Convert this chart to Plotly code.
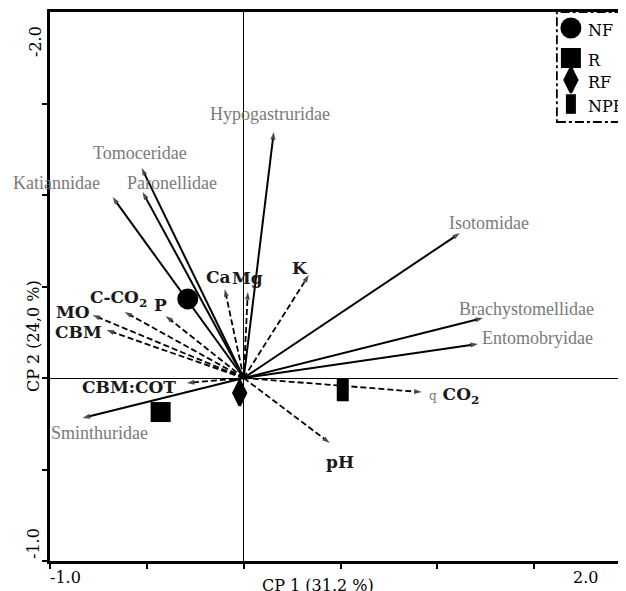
import plotly.graph_objects as go

# ---------------- data ----------------
species = ["Hypogastruridae", "Tomoceridae", "Paronellidae", "Katiannidae",
           "Isotomidae", "Brachystomellidae", "Entomobryidae", "Sminthuridae"]
species_cp1 = [0.155, -0.527, -0.522, -0.677, 1.116, 1.235, 1.209, -0.832]
species_cp2 = [1.344, 1.148, 1.016, 0.989, 0.792, 0.328, 0.186, -0.219]

variables = ["Ca", "Mg", "K", "P", "C-CO<sub>2</sub>", "MO", "CBM", "CBM:COT",
             "<span style='font-size:12px;color:#777777;font-weight:normal'>q</span> CO<sub>2</sub>", "pH"]
variable_cp1 = [-0.098, 0.021, 0.336, -0.403, -0.615, -0.780, -0.708, -0.294, 0.919, 0.444]
variable_cp2 = [0.486, 0.470, 0.563, 0.339, 0.361, 0.344, 0.262, -0.027, -0.077, -0.355]

sites = ["NF", "R", "RF", "NPF"]
site_cp1 = [-0.289, -0.429, -0.021, 0.511]
site_cp2 = [0.432, -0.186, -0.082, -0.066]

x_tick_vals = [-1.0, -0.5, 0.0, 0.5, 1.0, 1.5]
y_tick_vals = [-1.0, -0.5, 0.0, 0.5, 1.0, 1.5]
x_tick_text = ["-1.0", "2.0"]
y_tick_text = ["-2.0", "-1.0"]
x_title = "CP 1 (31.2 %)"
y_title = "CP 2 (24,0 %)"

# ---------------- styling ----------------
SERIF = "DejaVu Serif"
# the page body adds an 8 px margin: figure is 8 px smaller and margins compensate
FIG_W, FIG_H = 618, 583
M_L, M_R, M_T, M_B = 42, 0, 4, 30

species_label_shift = [(-4, -18), (-2, -15), (29, -9), (-56, -14), (29, -10),
                       (43, -9), (60, -6), (17, 15)]
variable_label_shift = [(-6, -12), (0, -14), (-9, -7), (-5, -11), (-6, -13),
                        (-20, -3), (-28, 2), (-58, 4), (32, 3), (10, 19)]
site_style = {
    "NF": dict(symbol="circle", size=21, line=dict(width=0)),
    "R": dict(symbol="square", size=20, line=dict(width=0)),
    "RF": dict(symbol="diamond-tall", size=18, line=dict(width=2.5, color="black")),
    "NPF": dict(symbol="line-ns", size=16, line=dict(width=12, color="black")),
}
legend_site_style = {
    "NF": dict(symbol="circle", size=21, line=dict(width=0)),
    "R": dict(symbol="square", size=20, line=dict(width=0)),
    "RF": dict(symbol="diamond-tall", size=18, line=dict(width=2.5, color="black")),
    "NPF": dict(symbol="line-ns", size=14, line=dict(width=10, color="black")),
}
legend_rows_px = [16, 46, 68, 92]

fig = go.Figure()

def add_vector(x, y, dash, width):
    fig.add_trace(go.Scatter(
        x=[0, x], y=[0, y], mode="lines+markers",
        line=dict(color="black", width=width, dash=dash),
        marker=dict(symbol=["circle", "arrow"], size=[0, 8], angleref="previous",
                    color="black", line=dict(width=0)),
        hoverinfo="skip", showlegend=False, cliponaxis=False))

for x, y in zip(species_cp1, species_cp2):
    add_vector(x, y, "solid", 2)
for x, y in zip(variable_cp1, variable_cp2):
    add_vector(x, y, "6px,3px", 1.8)

for name, x, y in zip(sites, site_cp1, site_cp2):
    st = site_style[name]
    fig.add_trace(go.Scatter(
        x=[x], y=[y], mode="markers",
        marker=dict(color="black", **st), name=name, showlegend=False,
        cliponaxis=False))

annotations = []
for name, x, y, (dx, dy) in zip(species, species_cp1, species_cp2, species_label_shift):
    annotations.append(dict(x=x, y=y, xref="x", yref="y", text=name, showarrow=False,
                            xshift=dx, yshift=-dy, xanchor="center", yanchor="middle",
                            font=dict(family="Liberation Serif", size=18, color="#7a7a7a")))
for name, x, y, (dx, dy) in zip(variables, variable_cp1, variable_cp2, variable_label_shift):
    annotations.append(dict(x=x, y=y, xref="x", yref="y", text="<b>" + name + "</b>",
                            showarrow=False, xshift=dx, yshift=-dy,
                            xanchor="center", yanchor="middle",
                            font=dict(family=SERIF, size=17, color="#1a1a1a")))

# legend (inset axes)
for name, row in zip(sites, legend_rows_px):
    st = legend_site_style[name]
    fig.add_trace(go.Scatter(x=[14], y=[row], mode="markers", xaxis="x2", yaxis="y2",
                             marker=dict(color="black", **st), showlegend=False,
                             hoverinfo="skip", cliponaxis=False))
    annotations.append(dict(x=29, y=row + 2, xref="x2", yref="y2", text=name,
                            showarrow=False, xanchor="left", yanchor="middle",
                            font=dict(family=SERIF, size=16, color="black")))

def paper_text(text, px, py, angle=0):
    """place text centred at a pixel of the plot area (relative to plot origin)"""
    pw = FIG_W - M_L - M_R
    ph = FIG_H - M_T - M_B
    return dict(x=px / pw, y=1 - py / ph, xref="paper", yref="paper", text=text,
                showarrow=False, xanchor="center", yanchor="middle", textangle=angle,
                font=dict(family=SERIF, size=16, color="black"))

# pixel positions below are relative to the plot area's top-left corner
annotations += [
    paper_text(x_tick_text[0], 15, 565),
    paper_text(x_tick_text[1], 535, 565),
    paper_text(y_tick_text[0], -14, 30, -90),
    paper_text(y_tick_text[1], -17, 532, -90),
    paper_text(x_title, 268, 573),
    paper_text(y_title, -17, 324, -90),
]

fig.update_layout(
    width=FIG_W, height=FIG_H,
    margin=dict(l=M_L, r=M_R, t=M_T, b=M_B),
    plot_bgcolor="white", paper_bgcolor="white",
    showlegend=False,
    xaxis=dict(range=[-1.0, 1.973], tickvals=x_tick_vals, showticklabels=False,
               ticks="outside", ticklen=5, tickwidth=2, tickcolor="black",
               showline=True, linewidth=2.5, linecolor="black", mirror=True,
               showgrid=False, zeroline=True, zerolinecolor="black", zerolinewidth=1.3),
    yaxis=dict(range=[-1.0, 2.0], tickvals=y_tick_vals, showticklabels=False,
               ticks="outside", ticklen=5, tickwidth=2, tickcolor="black",
               showline=True, linewidth=2.5, linecolor="black", mirror=False,
               showgrid=False, zeroline=True, zerolinecolor="black", zerolinewidth=1.3),
    xaxis2=dict(domain=[0.88, 1.0], range=[0, 69], visible=False, anchor="y2",
                fixedrange=True),
    yaxis2=dict(domain=[0.7996, 1.0], range=[110, 0], visible=False, anchor="x2",
                fixedrange=True),
    annotations=annotations,
    shapes=[dict(type="rect", xref="paper", yref="paper", x0=0.88, x1=1.03, y0=0.7996, y1=1.0,
                 line=dict(color="black", width=1.8, dash="dashdot"))],
)

fig.write_html("out.html")
